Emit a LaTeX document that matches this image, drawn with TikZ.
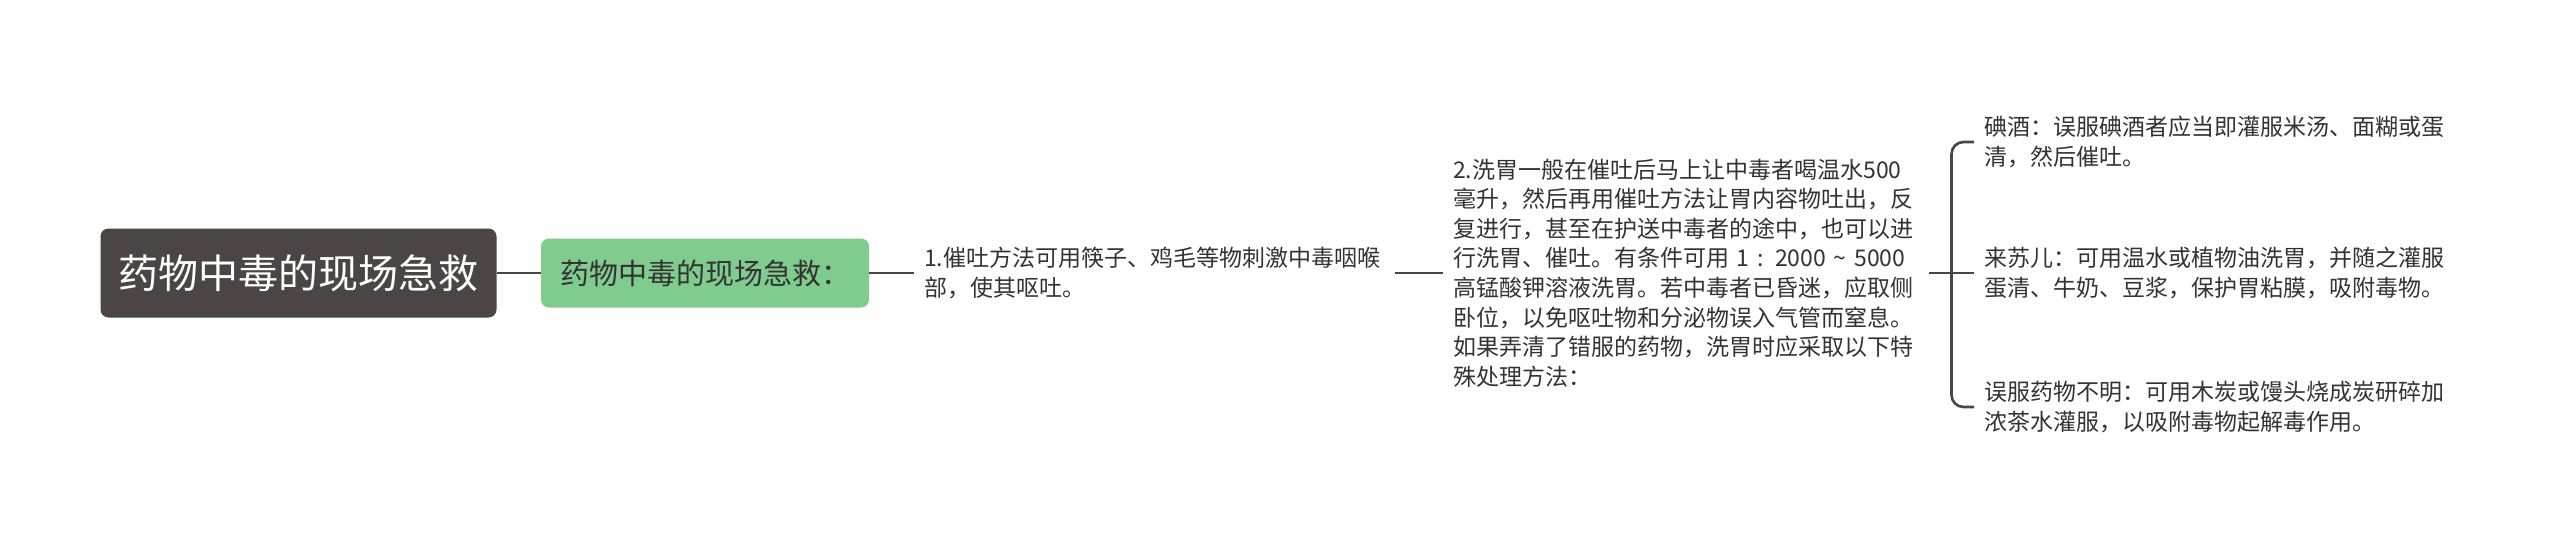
\documentclass[tikz,border=0pt]{standalone}
\usepackage{fontspec}
\newfontfamily\cjk{Noto Sans CJK SC}
\definecolor{rootc}{HTML}{4B4545}
\definecolor{greenc}{HTML}{80CC8F}
\definecolor{txtc}{HTML}{333333}
\begin{document}
\begin{tikzpicture}[x=1pt,y=-1pt,
  rootbox/.style={fill=rootc, rounded corners=8pt, text=white, minimum width=396pt, minimum height=89pt, inner sep=0pt, font={\cjk\fontsize{40}{48}\selectfont}},
  subbox/.style={fill=greenc, rounded corners=8pt, text=txtc, minimum width=328pt, minimum height=69pt, inner sep=0pt, font={\cjk\fontsize{29}{35}\selectfont}},
  leaf/.style={anchor=west, text=txtc, align=left, inner xsep=10pt, inner ysep=4pt, font={\cjk\fontsize{23}{29.6}\selectfont}},
  conn/.style={draw=rootc, line width=2.6pt}]
\fill[white] (0,0) rectangle (2560,547);
\useasboundingbox (0,0) rectangle (2560,547);

\node[rootbox] (root) at (298.5,273) {药物中毒的现场急救};
\node[subbox] (sub) at (705,273) {药物中毒的现场急救：};
\node[leaf, text width=461pt] (t1) at (914,273) {1.催吐方法可用筷子、鸡毛等物刺激中毒咽喉\\部，使其呕吐。};
\node[leaf, text width=466pt] (t2) at (1443,273) {2.洗胃一般在催吐后马上让中毒者喝温水500\\毫升，然后再用催吐方法让胃内容物吐出，反\\复进行，甚至在护送中毒者的途中，也可以进\\行洗胃、催吐。有条件可用 1 : 2000 {\char"7E} 5000\\高锰酸钾溶液洗胃。若中毒者已昏迷，应取侧\\卧位，以免呕吐物和分泌物误入气管而窒息。\\如果弄清了错服的药物，洗胃时应采取以下特\\殊处理方法：};
\node[leaf, text width=466pt] (c1) at (1974,142) {碘酒：误服碘酒者应当即灌服米汤、面糊或蛋\\清，然后催吐。};
\node[leaf, text width=466pt] (c2) at (1974,273) {来苏儿：可用温水或植物油洗胃，并随之灌服\\蛋清、牛奶、豆浆，保护胃粘膜，吸附毒物。};
\node[leaf, text width=466pt] (c3) at (1974,407) {误服药物不明：可用木炭或馒头烧成炭研碎加\\浓茶水灌服，以吸附毒物起解毒作用。};
\coordinate (j) at (1951.5,273);

\draw[conn] (root.east) -- (sub.west);
\draw[conn] (sub.east) -- (t1.west);
\draw[conn] (t1.east) -- (t2.west);
\draw[conn] (t2.east) -- (j) -- (c2.west);
\draw[conn, rounded corners=12pt] (c1.west) -| (j) |- (c3.west);
\end{tikzpicture}
\end{document}
